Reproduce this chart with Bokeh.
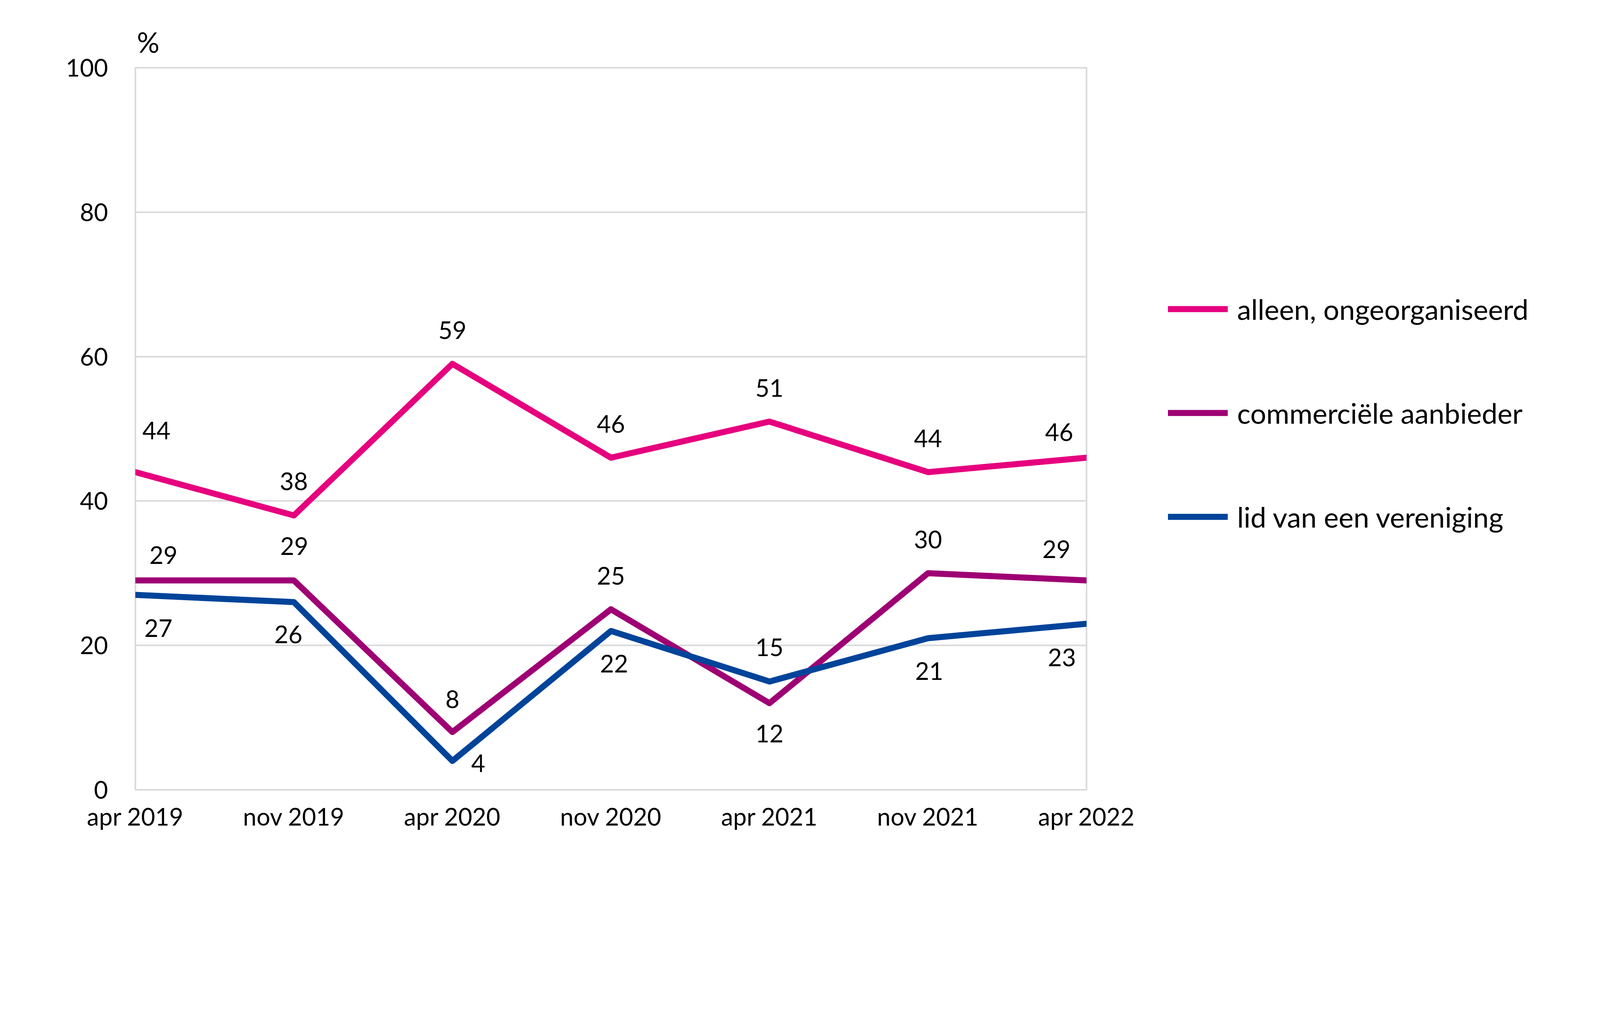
from bokeh.plotting import figure
from bokeh.models import Range1d, FixedTicker, Legend, LegendItem, ColumnDataSource
from bokeh.core.properties import value
from bokeh.embed import file_html
from bokeh.resources import INLINE

# ---- data ----
periods = ["apr 2019", "nov 2019", "apr 2020", "nov 2020", "apr 2021", "nov 2021", "apr 2022"]
alleen = [44, 38, 59, 46, 51, 44, 46]
commercieel = [29, 29, 8, 25, 12, 30, 29]
vereniging = [27, 26, 4, 22, 15, 21, 23]
series_names = ["alleen, ongeorganiseerd", "commerciële aanbieder", "lid van een vereniging"]
y_ticks = [0, 20, 40, 60, 80, 100]

# ---- styles ----
colors = ["#E6007E", "#9E0074", "#00449A"]
FONT = "Lato"
GRID = "#D9D9D9"
# data label offsets in screen px (+y = down)
label_dx = [
    [54, 0, 0, 0, 0, 0, -70],
    [72, 1, 0, 0, 0, 0, -77],
    [59, -14, 66, 8, 0, 3, -63],
]
label_dy = [
    [-106, -87, -86, -86, -86, -86, -65],
    [-65, -88, -84, -86, 78, -86, -80],
    [85, 83, 6, 84, -88, 84, 86],
]

W, H = 4100, 2232
FL, FR, FT, FB = 346, 2781, 173, 2022   # frame edges in figure px
p = figure(width=W, height=H, output_backend="svg", toolbar_location=None,
           x_range=Range1d(0, len(periods) - 1), y_range=Range1d(0, 100),
           min_border_left=FL, min_border_right=W - FR, min_border_top=FT,
           min_border_bottom=H - FB)
p.background_fill_color = "white"
p.border_fill_color = "white"
p.outline_line_color = GRID
p.outline_line_width = 4

p.title.text = "%"
p.title.align = "left"
p.title.offset = 4
p.title.standoff = 47
p.title.text_font = FONT
p.title.text_font_size = "72px"
p.title.text_font_style = "normal"
p.title.text_color = "black"

p.xgrid.grid_line_color = None
p.ygrid.grid_line_color = GRID
p.ygrid.grid_line_width = 4
p.ygrid.ticker = FixedTicker(ticks=y_ticks)

for ax in (p.xaxis[0], p.yaxis[0]):
    ax.axis_line_color = None
    ax.major_tick_line_color = None
    ax.minor_tick_line_color = None
    ax.major_tick_out = 0
    ax.major_tick_in = 0
    ax.minor_tick_out = 0
    ax.major_label_text_font = FONT
    ax.major_label_text_font_size = "62px"
    ax.major_label_text_color = "black"

p.xaxis.ticker = FixedTicker(ticks=list(range(len(periods))))
p.xaxis.major_label_overrides = {i: lab for i, lab in enumerate(periods)}
p.xaxis.major_label_standoff = 30
p.yaxis.ticker = FixedTicker(ticks=y_ticks)
p.yaxis.major_label_standoff = 70

xs = list(range(len(periods)))
all_series = [alleen, commercieel, vereniging]
renderers = []
for k, vals in enumerate(all_series):
    r = p.line(xs, vals, line_color=colors[k], line_width=15.5, line_join="round", line_cap="round")
    renderers.append(r)

for k, vals in enumerate(all_series):
    src = ColumnDataSource(dict(x=xs, y=vals, t=[str(v) for v in vals],
                                dx=label_dx[k], dy=label_dy[k]))
    p.text(x="x", y="y", text="t", x_offset="dx", y_offset="dy", source=src,
           text_align="center", text_baseline="middle", text_font=value(FONT),
           text_font_size="62px", text_color="black")

legend = Legend(items=[LegendItem(label=series_names[k], renderers=[renderers[k]]) for k in range(3)],
                location=(209, 654), orientation="vertical",
                glyph_width=153, glyph_height=90, label_height=90, label_standoff=24,
                spacing=176, padding=0, margin=0,
                label_text_font=FONT, label_text_font_size="72px", label_text_color="black",
                border_line_alpha=0, background_fill_alpha=0)
p.add_layout(legend, "right")

open("out.html", "w").write(file_html(p, INLINE))
